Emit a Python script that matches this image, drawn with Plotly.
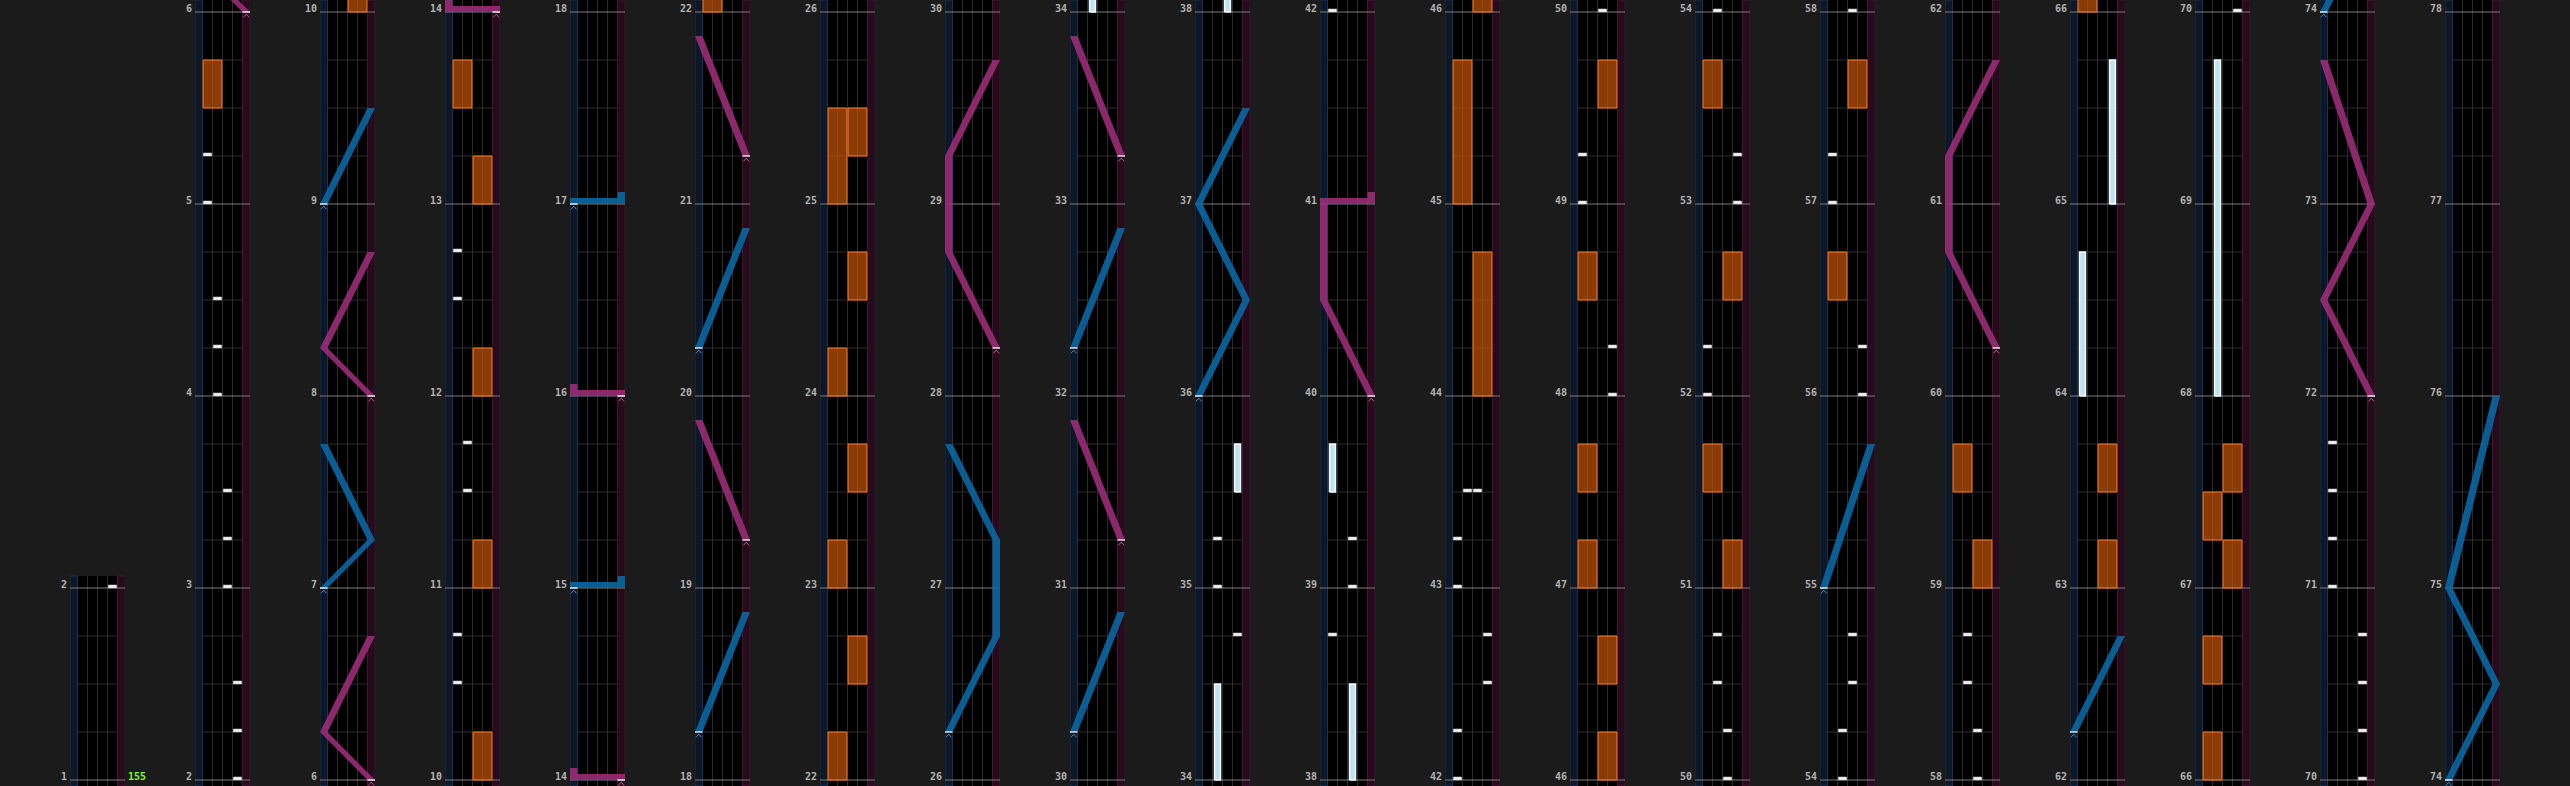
import plotly.graph_objects as go

# ---------------- chart data (positions in measures) ----------------
BPM_TEXT = "155"
N_COLUMNS = 20

# chip notes: (measure position, BT lane 0=A .. 3=D)
chip_notes = [
    (2.0, 3), (2.25, 3), (2.5, 3),
    (3.0, 2), (3.25, 2), (3.5, 2),
    (4.0, 1), (4.25, 1), (4.5, 1),
    (5.0, 0), (5.25, 0),
    (10.5, 0), (10.75, 0),
    (11.5, 1), (11.75, 1),
    (12.5, 0), (12.75, 0),
    (34.75, 3), (35.0, 1), (35.25, 1),
    (38.75, 0), (39.0, 2), (39.25, 2),
    (42.0, 0), (42.25, 0), (42.5, 3), (42.75, 3),
    (43.0, 0), (43.25, 0), (43.5, 1), (43.5, 2),
    (48.0, 3), (48.25, 3), (49.0, 0), (49.25, 0),
    (50.0, 2), (50.25, 2), (50.5, 1), (50.75, 1),
    (52.0, 0), (52.25, 0), (53.0, 3), (53.25, 3),
    (54.0, 1), (54.25, 1), (54.5, 2), (54.75, 2),
    (56.0, 3), (56.25, 3), (57.0, 0), (57.25, 0),
    (58.0, 2), (58.25, 2), (58.5, 1), (58.75, 1),
    (70.0, 3), (70.25, 3), (70.5, 3), (70.75, 3),
    (71.0, 0), (71.25, 0), (71.5, 0), (71.75, 0),
]

# BT long notes: (lane, start, end)
bt_holds = [
    (1, 34.0, 34.5), (3, 35.5, 35.75), (2, 38.0, 38.5), (0, 39.5, 39.75),
    (0, 64.0, 64.75), (3, 65.0, 65.75), (1, 68.0, 69.75),
]

# FX long notes: (side 0=L 1=R, start, end)
fx_holds = [
    (0, 5.5, 5.75),
    (1, 10.0, 10.25), (1, 11.0, 11.25), (1, 12.0, 12.25), (1, 13.0, 13.25), (0, 13.5, 13.75),
    (0, 22.0, 22.25), (1, 22.5, 22.75), (0, 23.0, 23.25), (1, 23.5, 23.75),
    (0, 24.0, 24.25), (1, 24.5, 24.75), (0, 25.0, 25.5), (1, 25.25, 25.5),
    (1, 44.0, 44.75), (0, 45.0, 45.75),
    (1, 46.0, 46.25), (1, 46.5, 46.75), (0, 47.0, 47.25), (0, 47.5, 47.75),
    (0, 48.5, 48.75), (1, 49.5, 49.75),
    (1, 51.0, 51.25), (0, 51.5, 51.75), (1, 52.5, 52.75), (0, 53.5, 53.75),
    (0, 56.5, 56.75), (1, 57.5, 57.75), (1, 59.0, 59.25), (0, 59.5, 59.75),
    (1, 63.0, 63.25), (1, 63.5, 63.75),
    (0, 66.0, 66.25), (0, 66.5, 66.75), (1, 67.0, 67.25), (0, 67.25, 67.5), (1, 67.5, 67.75),
]

# lasers: list of (measure position, lateral position 0..1); equal times = slam
left_lasers = [
    [(7.0, 0), (7.25, 1), (7.75, 0)],
    [(9.0, 0), (9.5, 1)],
    [(15.0, 0), (15.0, 1)],
    [(17.0, 0), (17.0, 1)],
    [(18.25, 0), (18.875, 1)],
    [(20.25, 0), (20.875, 1)],
    [(26.25, 0), (26.75, 1), (27.25, 1), (27.75, 0)],
    [(30.25, 0), (30.875, 1)],
    [(32.25, 0), (32.875, 1)],
    [(36.0, 0), (36.5, 1), (37.0, 0), (37.5, 1)],
    [(55.0, 0), (55.75, 1)],
    [(62.25, 0), (62.75, 1)],
    [(74.0, 0), (74.5, 1), (75.0, 0), (76.0, 1)],
]
right_lasers = [
    [(6.0, 1), (6.25, 0), (6.75, 1)],
    [(8.0, 1), (8.25, 0), (8.75, 1)],
    [(14.0, 1), (14.0, 0)],
    [(16.0, 1), (16.0, 0)],
    [(19.25, 1), (19.875, 0)],
    [(21.25, 1), (21.875, 0)],
    [(28.25, 1), (28.75, 0), (29.25, 0), (29.75, 1)],
    [(31.25, 1), (31.875, 0)],
    [(33.25, 1), (33.875, 0)],
    [(40.0, 1), (40.5, 0), (41.0, 0), (41.0, 1)],
    [(60.25, 1), (60.75, 0), (61.25, 0), (61.75, 1)],
    [(72.0, 1), (72.5, 0), (73.0, 1), (73.75, 0)],
]

# ---------------- style / geometry ----------------
W, H = 2570, 786
COL_LEFT0, COL_STEP, COL_W = 70, 125, 55
PX_PER_MEASURE = 192.0
PAD_BOTTOM, PAD_TOP = 6 / PX_PER_MEASURE, 12 / PX_PER_MEASURE
X_MIN, X_MAX = -0.75, 4.75          # lane units (BT lanes 0..4, laser lanes outside)
LH = 0.375                          # half width of a laser band
SLAM_H = 1 / 32
TAIL_H = 1 / 16
CHIP_H = 1 / 64

BG = "#1b1b1b"
BLUE_LANE, BLUE_EDGE = "#0c1728", "#1b3150"
PINK_LANE, PINK_EDGE = "#250b1c", "#46152f"
GRID = "#2c2c2c"
MEASURE = "#7c7c7c"
BLUE_LASER, PINK_LASER = "#0b6aa6", "#9e2d7b"
BLUE_CARET, PINK_CARET = "#3d8fcc", "#c0509e"
LABEL = "#b3b3b3"


def laser_x(p):
    return -LH + p * (X_MAX - X_MIN - 2 * LH)


def col_measures(k):
    return (1, 2) if k == 0 else (4 * k - 2, 4 * k + 2)


def rect(x0, x1, y0, y1):
    return [x0, x1, x1, x0, x0, None], [y0, y0, y1, y1, y0, None]


def laser_polys(points):
    polys = []

    def band(run):
        xs = [laser_x(p) - LH for _, p in run] + [laser_x(p) + LH for _, p in reversed(run)]
        ys = [t for t, _ in run] + [t for t, _ in reversed(run)]
        return xs + [xs[0], None], ys + [ys[0], None]

    run = [points[0]]
    for prev, cur in zip(points, points[1:]):
        if cur[0] == prev[0]:
            if len(run) >= 2:
                polys.append(band(run))
            xa, xb = laser_x(prev[1]), laser_x(cur[1])
            polys.append(rect(min(xa, xb) - LH, max(xa, xb) + LH, cur[0], cur[0] + SLAM_H))
            run = [cur]
        else:
            run.append(cur)
    if len(run) >= 2:
        polys.append(band(run))
    if len(points) >= 2 and points[-1][0] == points[-2][0]:
        x = laser_x(points[-1][1])
        polys.append(rect(x - LH, x + LH, points[-1][0], points[-1][0] + TAIL_H))
    return polys


def concat(polys):
    xs, ys = [], []
    for px, py in polys:
        xs += px
        ys += py
    return xs, ys


fig = go.Figure()
layout = dict(
    width=W, height=H, margin=dict(l=0, r=0, t=0, b=0),
    paper_bgcolor=BG, plot_bgcolor="#000000", showlegend=False,
)
shapes, annotations = [], []

for k in range(N_COLUMNS):
    sfx = "" if k == 0 else str(k + 1)
    xa, ya = "x" + sfx, "y" + sfx
    first, last = col_measures(k)
    lo, hi = first - PAD_BOTTOM, last + PAD_TOP
    y_top = min(1.0, (hi - lo) * PX_PER_MEASURE / H)
    x0 = (COL_LEFT0 + COL_STEP * k) / W
    layout["xaxis" + sfx] = dict(domain=[x0, x0 + COL_W / W], range=[X_MIN, X_MAX],
                                 visible=False, fixedrange=True, anchor=ya)
    layout["yaxis" + sfx] = dict(domain=[0, y_top], range=[lo, hi],
                                 visible=False, fixedrange=True, anchor=xa)
    ydom = ya + " domain"

    # lane backgrounds
    shapes.append(dict(type="rect", xref=xa, yref=ydom, x0=X_MIN, x1=0, y0=0, y1=1,
                       fillcolor=BLUE_LANE, line=dict(color=BLUE_EDGE, width=1), layer="below"))
    shapes.append(dict(type="rect", xref=xa, yref=ydom, x0=4, x1=X_MAX, y0=0, y1=1,
                       fillcolor=PINK_LANE, line=dict(color=PINK_EDGE, width=1), layer="below"))
    for lane in (1, 2, 3):
        shapes.append(dict(type="line", xref=xa, yref=ydom, x0=lane, x1=lane, y0=0, y1=1,
                           line=dict(color=GRID, width=1), layer="below"))
    for m in range(first - 1, last + 1):
        for q in (0.25, 0.5, 0.75):
            t = m + q
            if lo < t < hi:
                shapes.append(dict(type="line", xref=xa, yref=ya, x0=0, x1=4, y0=t, y1=t,
                                   line=dict(color=GRID, width=1), layer="below"))
    for m in range(first, last + 1):
        shapes.append(dict(type="line", xref=xa, yref=ya, x0=X_MIN, x1=X_MAX, y0=m, y1=m,
                           line=dict(color=MEASURE, width=1), layer="below"))
        annotations.append(dict(text=str(m), xref=xa, yref=ya, x=X_MIN, y=m,
                                xanchor="right", yanchor="middle", xshift=-1, yshift=4,
                                showarrow=False,
                                font=dict(family="DejaVu Sans Mono", size=10, color=LABEL,
                                          weight="bold")))
    if k == 0:
        annotations.append(dict(text=BPM_TEXT, xref=xa, yref=ya, x=X_MAX, y=first,
                                xanchor="left", yanchor="middle", xshift=1, yshift=4,
                                showarrow=False,
                                font=dict(family="DejaVu Sans Mono", size=10, color="#7dff1a",
                                          weight="bold")))

    def inside(t0, t1):
        return t1 >= lo - 0.1 and t0 <= hi + 0.1

    # FX holds
    polys = [rect(2 * s + 0.06, 2 * s + 1.94, a, b) for s, a, b in fx_holds if inside(a, b)]
    if polys:
        xs, ys = concat(polys)
        fig.add_trace(go.Scatter(x=xs, y=ys, xaxis=xa, yaxis=ya, mode="lines", fill="toself",
                                 fillcolor="rgba(185,80,8,0.75)",
                                 line=dict(color="#ff7a1c", width=1), hoverinfo="skip"))
    # BT holds
    polys = [rect(l + 0.2, l + 0.8, a, b) for l, a, b in bt_holds if inside(a, b)]
    if polys:
        xs, ys = concat(polys)
        fig.add_trace(go.Scatter(x=xs, y=ys, xaxis=xa, yaxis=ya, mode="lines", fill="toself",
                                 fillcolor="#bfe2f0", line=dict(color="#f4fbff", width=1.5),
                                 hoverinfo="skip"))
    # chips
    polys = [rect(l + 0.08, l + 0.92, t, t + CHIP_H) for t, l in chip_notes if inside(t, t)]
    if polys:
        xs, ys = concat(polys)
        fig.add_trace(go.Scatter(x=xs, y=ys, xaxis=xa, yaxis=ya, mode="lines", fill="toself",
                                 fillcolor="#f4f4f4", line=dict(color="#b8b8b8", width=0.6),
                                 hoverinfo="skip"))
    # lasers
    for lasers, col, caret in ((left_lasers, BLUE_LASER, BLUE_CARET),
                               (right_lasers, PINK_LASER, PINK_CARET)):
        sel = [L for L in lasers if inside(L[0][0], L[-1][0] + TAIL_H)]
        if not sel:
            continue
        polys = []
        for L in sel:
            polys += laser_polys(L)
        xs, ys = concat(polys)
        fig.add_trace(go.Scatter(x=xs, y=ys, xaxis=xa, yaxis=ya, mode="lines", fill="toself",
                                 fillcolor=col, line=dict(width=0), opacity=0.88,
                                 hoverinfo="skip"))
        # start markers: white tick + caret
        wx, wy, cx, cy = [], [], [], []
        for L in sel:
            t, p = L[0]
            x = laser_x(p)
            wx += [x - LH, x + LH, None]
            wy += [t, t, None]
            cx += [x - 0.28, x, x + 0.28, None]
            cy += [t - 0.028, t - 0.011, t - 0.028, None]
        fig.add_trace(go.Scatter(x=cx, y=cy, xaxis=xa, yaxis=ya, mode="lines",
                                 line=dict(color=caret, width=1), hoverinfo="skip"))
        fig.add_trace(go.Scatter(x=wx, y=wy, xaxis=xa, yaxis=ya, mode="lines",
                                 line=dict(color="#ffffff", width=1.3), hoverinfo="skip"))

layout["shapes"] = shapes
layout["annotations"] = annotations
fig.update_layout(**layout)
fig.write_html(
    "out.html",
    config={"displayModeBar": False},
    post_script=("document.body.style.margin='0px';"
                 "document.body.style.background='" + BG + "';"
                 "document.body.style.overflow='hidden';"),
)
